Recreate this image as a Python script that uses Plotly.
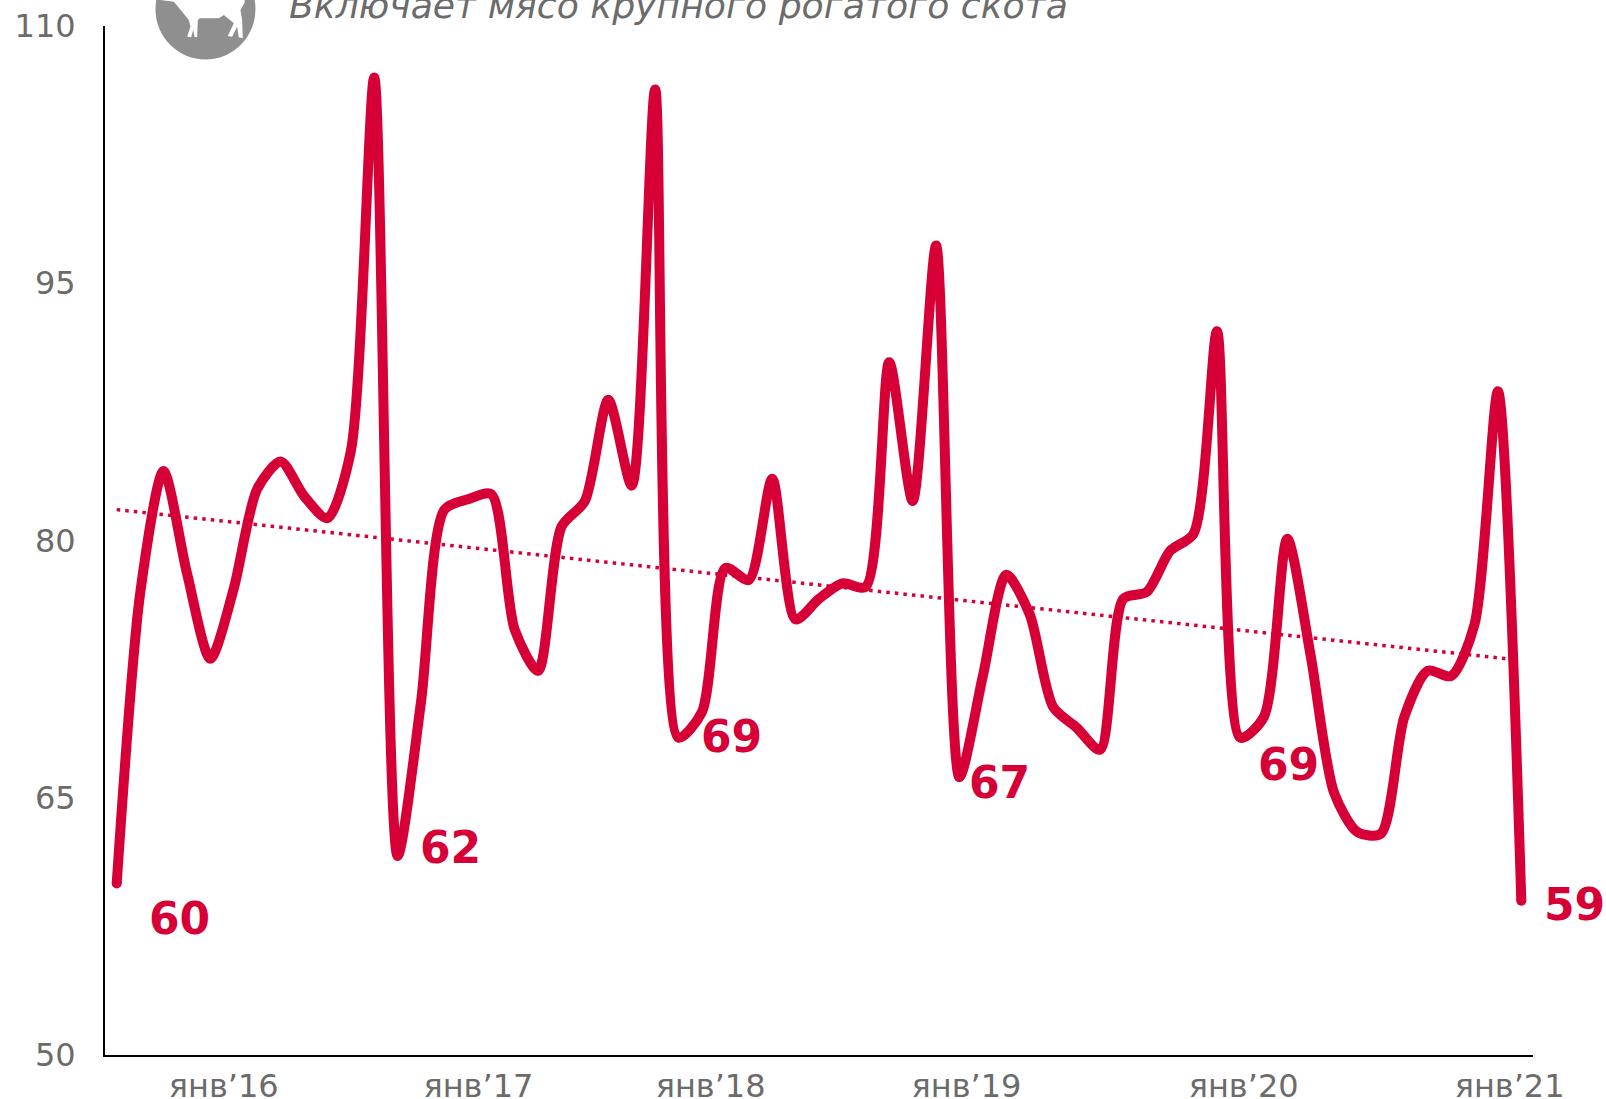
import plotly.graph_objects as go

months = list(range(61))
values = [60.0,76.9,84.05,78.1,73.1,77.2,83.0,84.6,82.6,81.3,85.2,107.0,
          61.6,70.6,81.8,82.4,82.7,74.8,72.4,80.8,82.3,88.2,83.2,106.3,
          68.5,70.0,78.4,77.7,83.6,75.4,76.6,77.5,77.3,90.4,82.3,97.2,
          66.2,72.1,78.0,75.7,70.3,69.1,67.8,76.6,77.0,79.4,80.4,92.2,
          68.5,69.7,80.1,73.3,65.3,63.0,62.9,69.7,72.4,72.1,75.1,88.7,59.0]
trend_x = [0, 59.75]
trend_y = [81.8, 73.05]
tick_pos = [4.57, 15.45, 25.37, 36.3, 48.14, 59.5]
tick_text = ["янв’16", "янв’17", "янв’18", "янв’19", "янв’20", "янв’21"]
y_ticks = [50, 65, 80, 95, 110]
label_x = [2.7, 14.27, 26.27, 37.72, 50.05]
label_y = [57.95, 62.1, 68.6, 65.9, 66.95]
label_text = ["60", "62", "69", "67", "69"]
last_label = "59"
last_label_y = 58.8
subtitle = "Включает мясо крупного рогатого скота"

RED = "#d60036"
GRAY = "#6b6b6b"
L, R, T, B = 104.5, 1533, 26, 1055.5

def px(v):
    return (v - L) / (R - L)
def py(v):
    return (B - v) / (B - T)

fig = go.Figure()
fig.add_trace(go.Scatter(x=months, y=values, mode="lines",
                         line=dict(color=RED, width=10, shape="spline", smoothing=0.75),
                         showlegend=False, hoverinfo="skip"))
fig.add_trace(go.Scatter(x=[months[0], months[-1]], y=[values[0], values[-1]], mode="markers",
                         marker=dict(color=RED, size=10), showlegend=False, hoverinfo="skip"))
fig.add_trace(go.Scatter(x=trend_x, y=trend_y, mode="lines",
                         line=dict(color=RED, width=3.5, dash="3.5px,5.1px"),
                         showlegend=False, hoverinfo="skip"))
for lx, ly, lt in zip(label_x, label_y, label_text):
    fig.add_annotation(x=lx, y=ly, text=f"<b>{lt}</b>", showarrow=False,
                       font=dict(family="DejaVu Sans", size=44, color=RED),
                       xanchor="center", yanchor="middle")
fig.add_annotation(xref="paper", x=px(1575), y=last_label_y, text=f"<b>{last_label}</b>", showarrow=False,
                   font=dict(family="DejaVu Sans", size=44, color=RED),
                   xanchor="center", yanchor="middle")

fig.add_annotation(xref="paper", yref="paper", x=px(287), y=py(29), text=f"<i>{subtitle}</i>",
                   showarrow=False, xanchor="left", yanchor="bottom",
                   font=dict(family="DejaVu Sans", size=36.2, color=GRAY))

# round badge with a cow, cut off by the top of the page
fig.add_shape(type="circle", xref="paper", yref="paper", x0=px(155), x1=px(255), y0=py(59.5), y1=py(-41),
              fillcolor="#8f8f8f", line=dict(width=0))
cow = [(60,-30),(60,0),(100,5),(125,35),(145,60),(150,80),(140,110),(152,112),(158,90),(162,110),(170,112),
       (172,60),(178,55),(235,55),(250,45),(275,65),(280,70),(262,108),(275,110),(290,80),(295,112),
       (307,115),(305,60),(300,30),(312,10),(315,-30)]
cow_path = "M" + " L".join(f"{px(140 + a / 3):.5f},{py(b / 3):.5f}" for a, b in cow) + " Z"
fig.add_shape(type="path", xref="paper", yref="paper", path=cow_path, fillcolor="white", line=dict(width=0))

fig.update_layout(
    width=1606, height=1099,
    margin=dict(l=L, r=1606 - R, t=T, b=1099 - B),
    paper_bgcolor="white", plot_bgcolor="white",
    font=dict(family="DejaVu Sans", color=GRAY),
    xaxis=dict(range=[-0.5, 60.5], tickmode="array", tickvals=tick_pos, ticktext=tick_text,
               showgrid=False, zeroline=False, showline=True, linecolor="black", linewidth=2,
               ticks="", tickfont=dict(size=32, color=GRAY), ticklabelstandoff=2, automargin=False),
    yaxis=dict(range=[50, 110], tickmode="array", tickvals=y_ticks,
               showgrid=False, zeroline=False, showline=True, linecolor="black", linewidth=2,
               ticks="", tickfont=dict(size=32, color=GRAY), ticklabelstandoff=21, automargin=False),
)
fig.write_html("out.html", post_script="document.body.style.margin='0';", config=dict(displayModeBar=False))
